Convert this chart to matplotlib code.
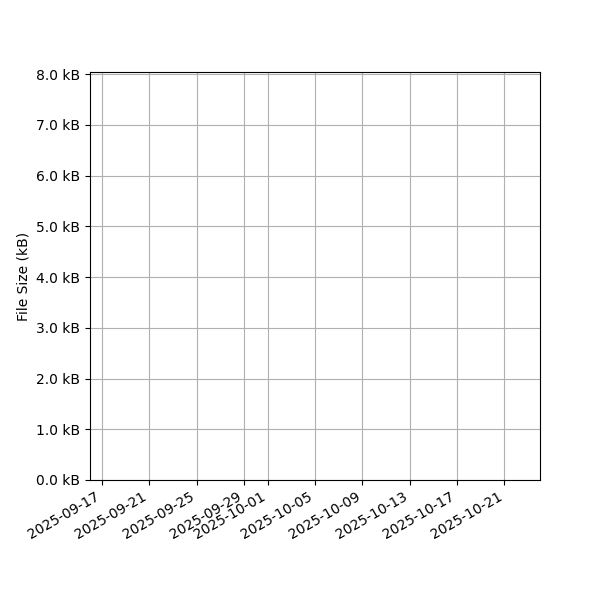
import matplotlib
matplotlib.use("Agg")
import matplotlib.pyplot as plt
import matplotlib.dates as mdates
from matplotlib.ticker import FuncFormatter, MultipleLocator
import datetime as dt

# Data (the reference chart shows no plotted marks)
dates = []
sizes_kb = []

x_start = dt.datetime(2025, 9, 16)
x_end = dt.datetime(2025, 10, 24)
y_min, y_max = 0.0, 8.04

fig, ax = plt.subplots(figsize=(6, 6), dpi=100)
ax.plot(dates, sizes_kb)
ax.set_xlim(x_start, x_end)
ax.set_ylim(y_min, y_max)
ax.yaxis.set_major_locator(MultipleLocator(1.0))
ax.yaxis.set_major_formatter(FuncFormatter(lambda v, p: f"{v:.1f} kB"))
loc = mdates.AutoDateLocator()
ax.xaxis.set_major_locator(loc)
ax.xaxis.set_major_formatter(mdates.DateFormatter("%Y-%m-%d"))
ax.set_ylabel("File Size (kB)")
ax.grid(True)
fig.autofmt_xdate()
fig.subplots_adjust(left=0.15, right=0.9, top=0.88, bottom=0.2)
fig.savefig("out.png", dpi=100)
